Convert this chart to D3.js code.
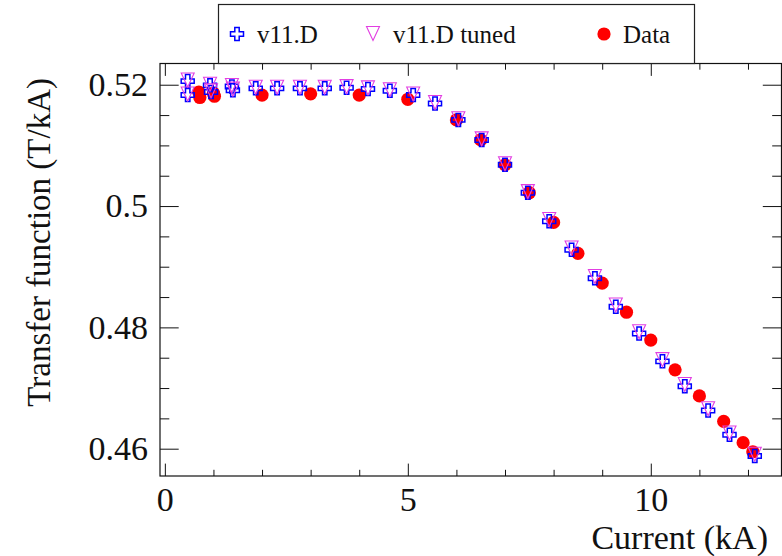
<!DOCTYPE html>
<html>
<head>
<meta charset="utf-8">
<script src="https://cdn.jsdelivr.net/npm/d3@7"></script>
<style>
  html, body { margin: 0; padding: 0; background: #fff; }
  svg { display: block; font-family: "Liberation Serif", "Times New Roman", serif; }
</style>
</head>
<body>
<svg id="chart" width="782" height="556"></svg>
<script>
// Magnet transfer function vs current: two model versions and measured data
const currentModel = [0.47, 0.47, 0.93, 0.95, 1.38, 1.40, 1.87, 2.31, 2.78, 3.29, 3.74, 4.18, 4.63, 5.11, 5.56,
  6.04, 6.52, 7.00, 7.47, 7.91, 8.37, 8.85, 9.28, 9.76, 10.24, 10.70, 11.18, 11.62, 12.14];
const tfV11D = [0.5206, 0.5183, 0.5199, 0.5188, 0.5197, 0.5191, 0.5194, 0.5194, 0.5194, 0.5194, 0.5195, 0.5193, 0.5190, 0.5183, 0.5169,
  0.5142, 0.5109, 0.5068, 0.5022, 0.4975, 0.4928, 0.4881, 0.4834, 0.4790, 0.4744, 0.4703, 0.4663, 0.4623, 0.4588];
const tfV11DTuned = [0.5207, 0.5184, 0.5200, 0.5189, 0.5198, 0.5192, 0.5195, 0.5195, 0.5195, 0.5195, 0.5196, 0.5194, 0.5191, 0.5184, 0.5170,
  0.5143, 0.5110, 0.5069, 0.5023, 0.4977, 0.4930, 0.4883, 0.4836, 0.4792, 0.4746, 0.4705, 0.4665, 0.4625, 0.4590];

const currentData = [0.70, 0.72, 1.00, 1.02, 2.00, 3.00, 4.00, 5.00, 6.00, 6.50, 7.00, 7.50, 8.00, 8.50,
  9.00, 9.50, 10.00, 10.50, 11.00, 11.50, 11.90, 12.10];
const tfData = [0.5188, 0.5179, 0.5186, 0.5181, 0.5183, 0.5185, 0.5183, 0.5176, 0.5142, 0.5109, 0.5068, 0.5022, 0.4973, 0.4922,
  0.4873, 0.4825, 0.4779, 0.4730, 0.4687, 0.4645, 0.4610, 0.4595];

const xMajorTicks = [0, 5, 10];
const xMinorTicks = [0, 1, 2, 3, 4, 5, 6, 7, 8, 9, 10, 11, 12];
const yMajorTicks = [0.46, 0.48, 0.50, 0.52];
const yMinorTicks = [0.460, 0.465, 0.470, 0.475, 0.480, 0.485, 0.490, 0.495, 0.500, 0.505, 0.510, 0.515, 0.520];

const legendLabels = ["v11.D", "v11.D tuned", "Data"];
const xTitle = "Current (kA)";
const yTitle = "Transfer function (T/kA)";

const FONT = "Liberation Serif, Times New Roman, serif";
const svg = d3.select("#chart");
const frame = { left: 160, right: 781.5, top: 63.5, bottom: 476 };

const x = d3.scaleLinear().domain([-0.1, 12.69]).range([frame.left, frame.right]);
const y = d3.scaleLinear().domain([0.4555, 0.5235]).range([frame.bottom, frame.top]);

const xMaj = 12.4, xMin = 6.2, yMaj = 18.7, yMin = 9.3;

function styleAxis(g) {
  g.select(".domain").remove();
  g.attr("font-family", FONT);
  g.selectAll(".tick line").attr("stroke", "#111").attr("stroke-width", 1);
}
const isMajor = (list) => (v) => list.some(m => Math.abs(m - v) < 1e-9);

// Bottom axis (labels) and minor ticks
svg.append("g").attr("transform", `translate(0,${frame.bottom})`)
  .call(d3.axisBottom(x).tickValues(xMajorTicks).tickSize(-xMaj).tickPadding(11).tickFormat(d3.format("d")))
  .call(styleAxis)
  .call(g => g.selectAll("text").attr("font-size", 34).attr("fill", "#111").attr("font-family", FONT));
svg.append("g").attr("transform", `translate(0,${frame.bottom})`)
  .call(d3.axisBottom(x).tickValues(xMinorTicks.filter(v => !isMajor(xMajorTicks)(v))).tickSize(-xMin).tickFormat(""))
  .call(styleAxis);
// Top mirror ticks
svg.append("g").attr("transform", `translate(0,${frame.top})`)
  .call(d3.axisTop(x).tickValues(xMajorTicks).tickSize(-xMaj).tickFormat(""))
  .call(styleAxis);
svg.append("g").attr("transform", `translate(0,${frame.top})`)
  .call(d3.axisTop(x).tickValues(xMinorTicks.filter(v => !isMajor(xMajorTicks)(v))).tickSize(-xMin).tickFormat(""))
  .call(styleAxis);

// Left axis (labels) and minor ticks
svg.append("g").attr("transform", `translate(${frame.left},0)`)
  .call(d3.axisLeft(y).tickValues(yMajorTicks).tickSize(-yMaj).tickPadding(12).tickFormat(d => String(+d.toFixed(2))))
  .call(styleAxis)
  .call(g => g.selectAll("text").attr("font-size", 34).attr("fill", "#111").attr("font-family", FONT));
svg.append("g").attr("transform", `translate(${frame.left},0)`)
  .call(d3.axisLeft(y).tickValues(yMinorTicks.filter(v => !isMajor(yMajorTicks)(v))).tickSize(-yMin).tickFormat(""))
  .call(styleAxis);
// Right mirror ticks
svg.append("g").attr("transform", `translate(${frame.right},0)`)
  .call(d3.axisRight(y).tickValues(yMajorTicks).tickSize(-yMaj).tickFormat(""))
  .call(styleAxis);
svg.append("g").attr("transform", `translate(${frame.right},0)`)
  .call(d3.axisRight(y).tickValues(yMinorTicks.filter(v => !isMajor(yMajorTicks)(v))).tickSize(-yMin).tickFormat(""))
  .call(styleAxis);

// Frame
svg.append("rect")
  .attr("x", frame.left).attr("y", frame.top)
  .attr("width", frame.right - frame.left).attr("height", frame.bottom - frame.top)
  .attr("fill", "none").attr("stroke", "#111").attr("stroke-width", 1.2);

// Axis titles
svg.append("text")
  .attr("x", 768).attr("y", 549)
  .attr("text-anchor", "end").attr("font-size", 34).attr("fill", "#111").attr("font-family", FONT)
  .text(xTitle);
svg.append("text")
  .attr("transform", "translate(50,78) rotate(-90)")
  .attr("text-anchor", "end").attr("font-size", 33).attr("fill", "#111").attr("font-family", FONT)
  .text(yTitle);

// Marker shapes
const S = 6.5, A = 2.2;
const crossPath = `M${-A},${-S}H${A}V${-A}H${S}V${A}H${A}V${S}H${-A}V${A}H${-S}V${-A}H${-A}Z`;
const triPath = `M${-S},${-S - 1}H${S}L0,${S}Z`;

const dataPts = currentData.map((c, i) => ({ c, v: tfData[i] }));
const v11Pts = currentModel.map((c, i) => ({ c, v: tfV11D[i] }));
const tunedPts = currentModel.map((c, i) => ({ c, v: tfV11DTuned[i] }));

const plot = svg.append("g");
plot.selectAll("circle.data").data(dataPts).join("circle")
  .attr("class", "data")
  .attr("cx", d => x(d.c)).attr("cy", d => y(d.v)).attr("r", 6.6)
  .attr("fill", "#ff0000");
plot.selectAll("path.v11").data(v11Pts).join("path")
  .attr("class", "v11")
  .attr("transform", d => `translate(${x(d.c)},${y(d.v)})`)
  .attr("d", crossPath).attr("fill", "none").attr("stroke", "#0000ff").attr("stroke-width", 1.5);
plot.selectAll("path.tuned").data(tunedPts).join("path")
  .attr("class", "tuned")
  .attr("transform", d => `translate(${x(d.c)},${y(d.v)})`)
  .attr("d", triPath).attr("fill", "none").attr("stroke", "#e23ee2").attr("stroke-width", 1.1);

// Legend
const leg = svg.append("g").attr("font-family", FONT);
leg.append("rect").attr("x", 218.5).attr("y", 4.5).attr("width", 476).attr("height", 59)
  .attr("fill", "#fff").attr("stroke", "#222").attr("stroke-width", 1.2);
const legY = 34;
leg.append("path").attr("transform", `translate(237,${legY})`).attr("d", crossPath)
  .attr("fill", "none").attr("stroke", "#0000ff").attr("stroke-width", 1.5);
leg.append("path").attr("transform", `translate(373,${legY})`).attr("d", triPath)
  .attr("fill", "none").attr("stroke", "#e23ee2").attr("stroke-width", 1.1);
leg.append("circle").attr("cx", 604).attr("cy", legY).attr("r", 6.6).attr("fill", "#ff0000");
const legX = [257, 393, 623];
leg.selectAll("text").data(legendLabels).join("text")
  .attr("x", (d, i) => legX[i]).attr("y", legY + 9)
  .attr("font-size", 25).attr("fill", "#111")
  .text(d => d);
</script>
</body>
</html>
